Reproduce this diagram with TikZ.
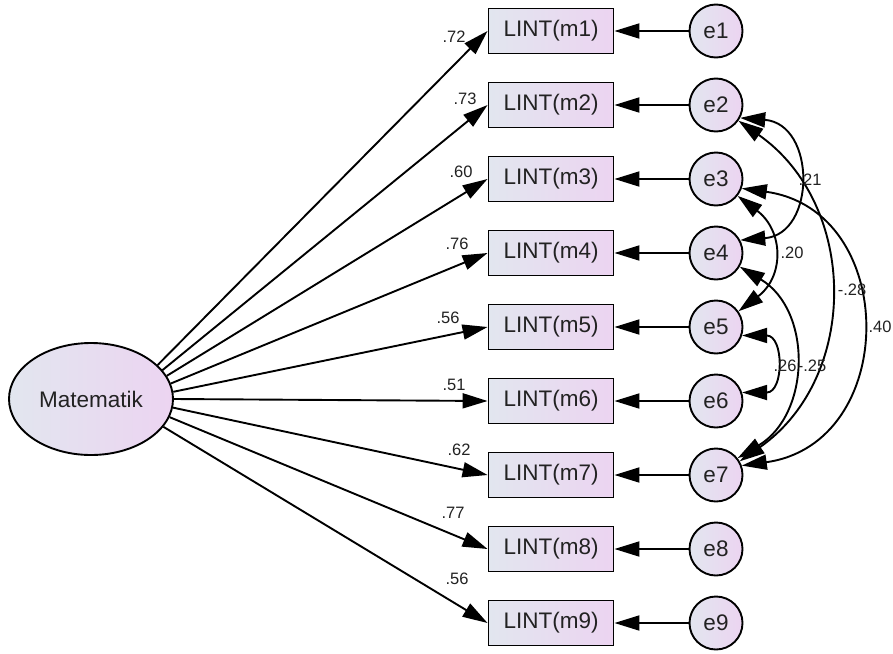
\documentclass[tikz,border=0pt]{standalone}
\usepackage{fontspec}
\setmainfont{Liberation Sans}
\usetikzlibrary{arrows.meta,shapes.geometric}
\definecolor{gl}{RGB}{226,230,239}
\definecolor{gr}{RGB}{236,212,241}
\definecolor{txt}{RGB}{34,34,34}
\begin{document}
\begin{tikzpicture}[x=1pt,y=-1pt,
  every node/.style={text=txt},
  obs/.style={draw, line width=1.9pt, left color=gl, right color=gr, minimum width=125pt, minimum height=45pt, inner sep=0pt, font=\fontsize{22.5}{22.5}\selectfont},
  err/.style={draw, circle, line width=1.9pt, left color=gl, right color=gr, minimum size=53pt, inner sep=0pt, font=\fontsize{22.5}{22.5}\selectfont},
  lat/.style={draw, ellipse, line width=1.9pt, left color=gl, right color=gr, minimum width=164pt, minimum height=112pt, inner sep=0pt, font=\fontsize{22.5}{22.5}\selectfont},
  load/.style={line width=1.9pt, -{Triangle[length=25pt,width=15pt]}},
  cov/.style={line width=1.9pt, {Triangle[length=25pt,width=15pt]}-{Triangle[length=25pt,width=15pt]}},
  lab/.style={font=\fontsize{16.5}{16.5}\selectfont, inner sep=0pt}
]
\useasboundingbox (0,0) rectangle (893,653);
\node[lat] (mat) at (91,399) {Matematik};
\foreach \i/\y in {1/31,2/105,3/179,4/253,5/327,6/401,7/475,8/549,9/623}{
  \node[obs] (m\i) at (551,\y) {LINT(m\i)};
  \node[err] (e\i) at (716,\y) {e\i};
}
% loadings
\foreach \i/\a in {1/27,2/22,3/17,4/11,5/5,6/0,7/-6,8/-13,9/-21}{
  \draw[load] (mat.\a) -- (m\i.west);
}
% error paths
\foreach \i in {1,...,9}{
  \draw[load] (e\i) -- (m\i);
}
% loading labels
\node[lab] at (454,37) {.72};
\node[lab] at (465,99) {.73};
\node[lab] at (461,172) {.60};
\node[lab] at (457,244) {.76};
\node[lab] at (448,318) {.56};
\node[lab] at (454,385) {.51};
\node[lab] at (459,450) {.62};
\node[lab] at (453,513) {.77};
\node[lab] at (457,579) {.56};
% covariances
\draw[cov] (e2.-28) .. controls +(76,6) and +(76,-6) .. (e4.28);
\draw[cov] (e2.-35) .. controls +(120,84) and +(120,-84) .. (e7.30);
\draw[cov] (e3.-20) .. controls +(158,22) and +(158,-22) .. (e7.20);
\draw[cov] (e3.-38) .. controls +(46,35) and +(46,-35) .. (e5.35);
\draw[cov] (e4.-30) .. controls +(73,44) and +(73,-44) .. (e7.38);
\draw[cov] (e5.-18) .. controls +(42,0) and +(42,0) .. (e6.18);
\node[lab] at (810,180) {.21};
\node[lab] at (792,253) {.20};
\node[lab] at (852,290) {-.28};
\node[lab] at (880,327) {.40};
\node[lab] at (785,366) {.26};
\node[lab] at (812,366) {-.25};
\end{tikzpicture}
\end{document}
